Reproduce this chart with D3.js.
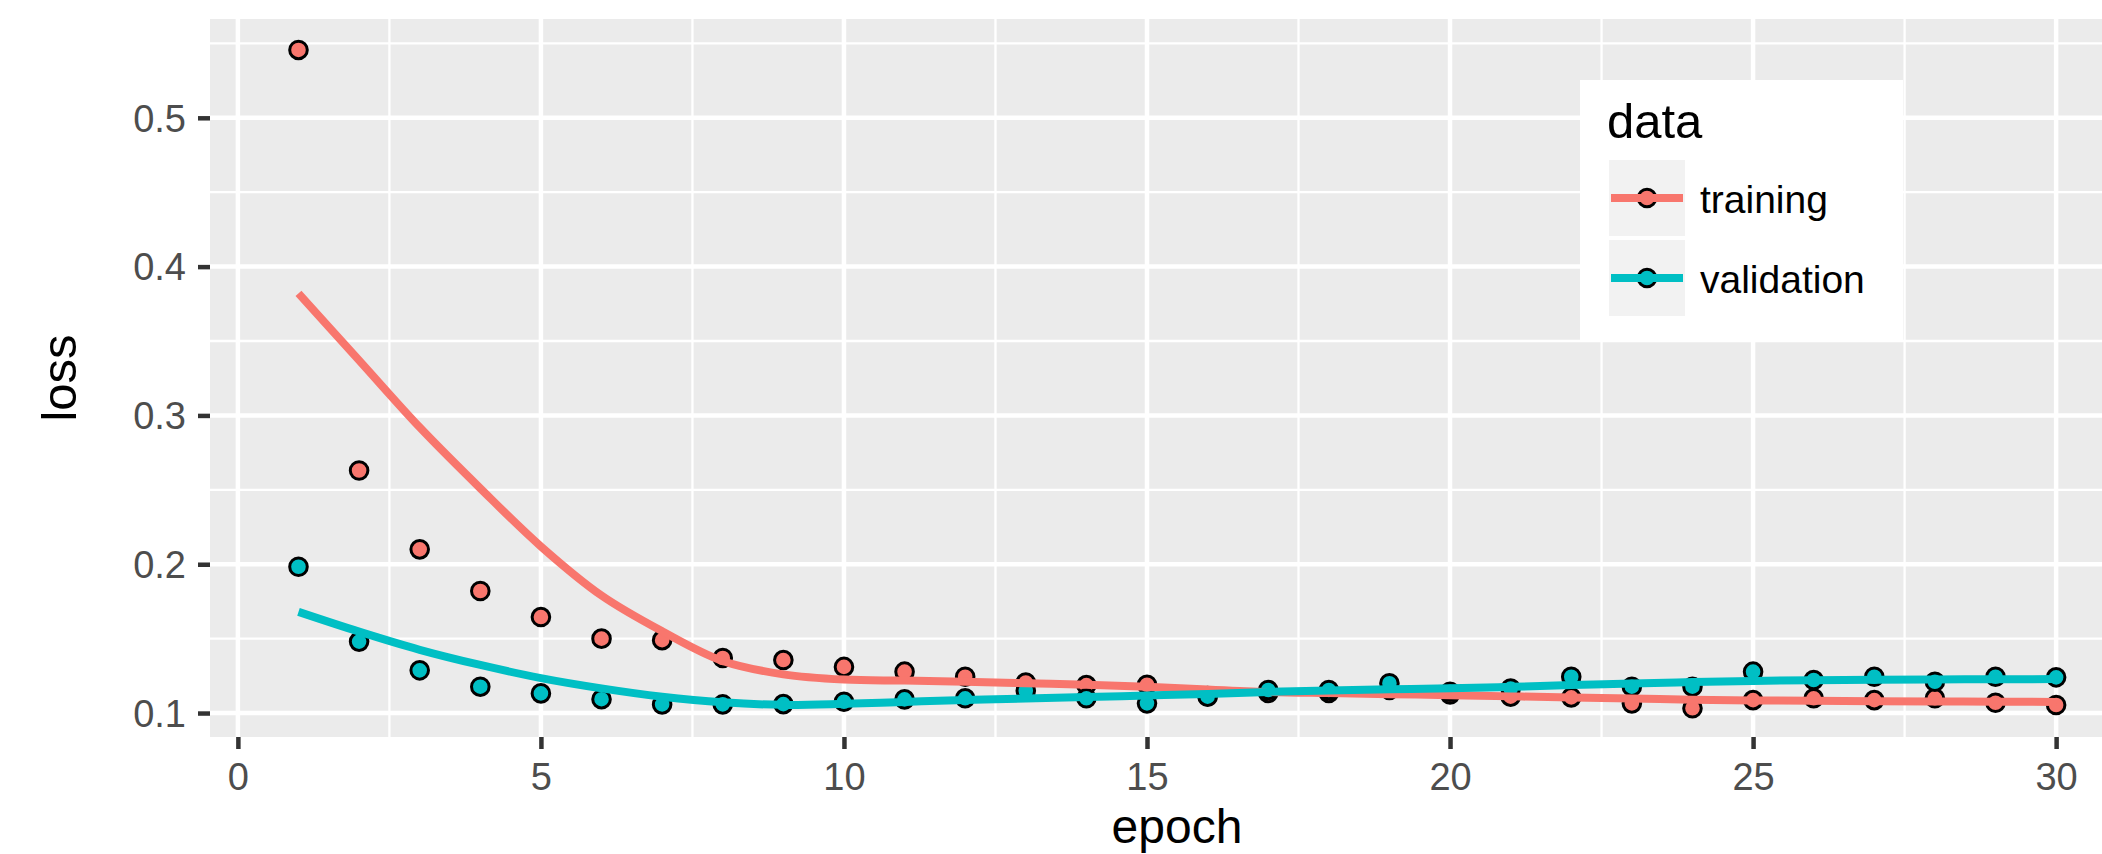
<!DOCTYPE html>
<html>
<head>
<meta charset="utf-8">
<script src="https://cdn.jsdelivr.net/npm/d3@7"></script>
<style>
  html, body { margin: 0; padding: 0; background: #ffffff; }
  svg { display: block; }
</style>
</head>
<body>
<div id="chart"></div>
<script>
// ---------------- data ----------------
const epochs = [1,2,3,4,5,6,7,8,9,10,11,12,13,14,15,16,17,18,19,20,21,22,23,24,25,26,27,28,29,30];

const trainingLoss = [0.5456,0.263,0.210,0.182,0.1645,0.150,0.149,0.137,0.1356,0.131,
                      0.1278,0.1244,0.1205,0.1188,0.119,0.1115,0.1135,0.1135,0.1155,0.1125,
                      0.111,0.1105,0.1065,0.1032,0.1087,0.1099,0.1087,0.1099,0.1069,0.1054];

const validationLoss = [0.1983,0.148,0.1287,0.1177,0.1132,0.1093,0.1058,0.1058,0.106,0.1076,
                        0.1092,0.1099,0.115,0.1099,0.1065,0.111,0.1155,0.1155,0.120,0.1143,
                        0.1164,0.1244,0.1177,0.1177,0.1278,0.1222,0.1244,0.121,0.1244,0.124];

// smoothed (loess) curves
const trainingSmooth = [0.382,0.337,0.292,0.251,0.212,0.179,0.155,0.135,0.126,0.1225,
                        0.1218,0.121,0.120,0.119,0.1177,0.1158,0.1142,0.1134,0.1127,0.112,
                        0.1112,0.1105,0.1097,0.109,0.1085,0.1082,0.108,0.1078,0.1076,0.1075];

const validationSmooth = [0.168,0.1547,0.1425,0.1323,0.1235,0.1166,0.111,0.1072,0.1055,0.1062,
                          0.1075,0.1087,0.1098,0.1107,0.1118,0.1128,0.1142,0.1152,0.116,0.1166,
                          0.1176,0.1188,0.1198,0.1208,0.1216,0.1221,0.1224,0.1226,0.1227,0.1228];

const seriesNames = ["training", "validation"];
const xTicks = [0,5,10,15,20,25,30];
const xTickLabels = ["0","5","10","15","20","25","30"];
const xMinorTicks = [2.5,7.5,12.5,17.5,22.5,27.5];
const yTicks = [0.1,0.2,0.3,0.4,0.5];
const yTickLabels = ["0.1","0.2","0.3","0.4","0.5"];
const yMinorTicks = [0.15,0.25,0.35,0.45,0.55];
const xTitle = "epoch";
const yTitle = "loss";
const legendTitle = "data";

// ---------------- layout / style ----------------
const W = 2102, H = 854;
const P = { left: 210, top: 19, right: 2144, bottom: 737 };
const colors = { training: "#F8766D", validation: "#00BFC4" };
const FONT = "'Liberation Sans', Arial, Helvetica, sans-serif";

const x = d3.scaleLinear().domain([-0.46, 31.45]).range([P.left, P.right]);
const y = d3.scaleLinear().domain([0.0839, 0.5664]).range([P.bottom, P.top]);

const svg = d3.select("#chart").append("svg")
  .attr("width", W).attr("height", H)
  .attr("viewBox", `0 0 ${W} ${H}`);

svg.append("rect").attr("width", W).attr("height", H).attr("fill", "#ffffff");

svg.append("defs").append("clipPath").attr("id", "panelClip")
  .append("rect")
  .attr("x", P.left).attr("y", P.top)
  .attr("width", P.right - P.left).attr("height", P.bottom - P.top);

// panel background
svg.append("rect")
  .attr("x", P.left).attr("y", P.top)
  .attr("width", P.right - P.left).attr("height", P.bottom - P.top)
  .attr("fill", "#EBEBEB");

const panel = svg.append("g").attr("clip-path", "url(#panelClip)");

// grid lines (minor first, then major)
const grid = panel.append("g").attr("class", "grid");
grid.selectAll("line.ymin").data(yMinorTicks).join("line")
  .attr("x1", P.left).attr("x2", P.right)
  .attr("y1", d => y(d)).attr("y2", d => y(d))
  .attr("stroke", "#ffffff").attr("stroke-width", 2.3);
grid.selectAll("line.xmin").data(xMinorTicks).join("line")
  .attr("y1", P.top).attr("y2", P.bottom)
  .attr("x1", d => x(d)).attr("x2", d => x(d))
  .attr("stroke", "#ffffff").attr("stroke-width", 2.3);
grid.selectAll("line.ymaj").data(yTicks).join("line")
  .attr("x1", P.left).attr("x2", P.right)
  .attr("y1", d => y(d)).attr("y2", d => y(d))
  .attr("stroke", "#ffffff").attr("stroke-width", 4.5);
grid.selectAll("line.xmaj").data(xTicks).join("line")
  .attr("y1", P.top).attr("y2", P.bottom)
  .attr("x1", d => x(d)).attr("x2", d => x(d))
  .attr("stroke", "#ffffff").attr("stroke-width", 4.5);

// points (training first, validation on top)
const pointR = 8.8;
const pointData = [
  { name: "training", values: trainingLoss },
  { name: "validation", values: validationLoss }
];
pointData.forEach(s => {
  panel.append("g").selectAll("circle")
    .data(epochs.map((e, i) => ({ e, v: s.values[i] })))
    .join("circle")
    .attr("cx", d => x(d.e)).attr("cy", d => y(d.v))
    .attr("r", pointR)
    .attr("fill", colors[s.name])
    .attr("stroke", "#000000").attr("stroke-width", 3);
});

// smooth lines
const line = d3.line().x(d => x(d.e)).y(d => y(d.v)).curve(d3.curveCatmullRom.alpha(0.5));
const smoothData = [
  { name: "training", values: trainingSmooth },
  { name: "validation", values: validationSmooth }
];
smoothData.forEach(s => {
  panel.append("path")
    .datum(epochs.map((e, i) => ({ e, v: s.values[i] })))
    .attr("d", line)
    .attr("fill", "none")
    .attr("stroke", colors[s.name])
    .attr("stroke-width", 8)
    .attr("stroke-linecap", "butt")
    .attr("stroke-linejoin", "round");
});

// axes
const yAxis = d3.axisLeft(y).tickValues(yTicks)
  .tickFormat((d, i) => yTickLabels[i]).tickSize(12).tickPadding(12);
const gy = svg.append("g").attr("transform", `translate(${P.left},0)`).call(yAxis);
const xAxis = d3.axisBottom(x).tickValues(xTicks)
  .tickFormat((d, i) => xTickLabels[i]).tickSize(12).tickPadding(14);
const gx = svg.append("g").attr("transform", `translate(0,${P.bottom})`).call(xAxis);

[gx, gy].forEach(g => {
  g.select(".domain").remove();
  g.selectAll(".tick line").attr("stroke", "#333333").attr("stroke-width", 4.5);
  g.selectAll(".tick text")
    .attr("fill", "#4D4D4D")
    .style("font-family", FONT)
    .style("font-size", "38px");
});
gy.selectAll(".tick text").attr("dy", "0.35em");

// axis titles
svg.append("text")
  .attr("x", (P.left + P.right) / 2).attr("y", 843)
  .attr("text-anchor", "middle")
  .style("font-family", FONT).style("font-size", "48px")
  .attr("fill", "#000000")
  .text(xTitle);

svg.append("text")
  .attr("transform", `translate(76,${(P.top + P.bottom) / 2}) rotate(-90)`)
  .attr("text-anchor", "middle")
  .style("font-family", FONT).style("font-size", "49px")
  .attr("fill", "#000000")
  .text(yTitle);

// legend
const lg = svg.append("g");
lg.append("rect")
  .attr("x", 1580).attr("y", 80).attr("width", 323).attr("height", 260)
  .attr("fill", "#ffffff");
lg.append("text")
  .attr("x", 1607).attr("y", 138)
  .style("font-family", FONT).style("font-size", "49px")
  .attr("fill", "#000000")
  .text(legendTitle);

const keyY = [198, 278];
const keyBaseline = [213, 293];
seriesNames.forEach((name, i) => {
  const cy = keyY[i];
  lg.append("rect")
    .attr("x", 1609).attr("y", cy - 38).attr("width", 76).attr("height", 76)
    .attr("fill", "#F2F2F2");
  lg.append("circle")
    .attr("cx", 1647).attr("cy", cy).attr("r", pointR)
    .attr("fill", colors[name]).attr("stroke", "#000000").attr("stroke-width", 3);
  lg.append("line")
    .attr("x1", 1611).attr("x2", 1683).attr("y1", cy).attr("y2", cy)
    .attr("stroke", colors[name]).attr("stroke-width", 8);
  lg.append("text")
    .attr("x", 1700).attr("y", keyBaseline[i])
    .style("font-family", FONT).style("font-size", "39px")
    .attr("fill", "#000000")
    .text(name);
});
</script>
</body>
</html>
